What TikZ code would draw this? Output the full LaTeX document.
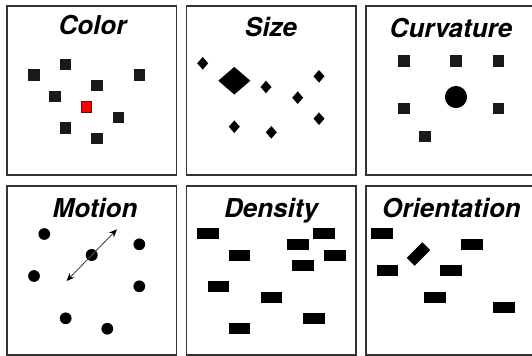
\documentclass[tikz,border=0pt]{standalone}
\usepackage{fontspec}
\setsansfont{TeX Gyre Heros}
\usetikzlibrary{arrows.meta}

\begin{document}
\begin{tikzpicture}[x=0.75pt,y=-0.75pt,>=Stealth,
		panel/.style={draw=black!80,line width=1pt},
		title/.style={anchor=base,font=\sffamily\bfseries\itshape\fontsize{19.5}{22}\selectfont},
		glyph/.style={fill=black!90}]
		
		\useasboundingbox (0,0) rectangle (532,355);
		\clip (0,0) rectangle (532,355);
		
		% frames
		\foreach \x in {7,186.5,366}
		\foreach \y in {6,186}
		\draw[panel] (\x,\y) rectangle ++(169.5,169);
		
		% titles
		\node[title] (color)   at (92.5,34)   {Color};
		\node[title] (size)    at (271,36.5)  {Size};
		\node[title] (curv)    at (451,37.5)  {Curvature};
		\node[title] (motion)  at (95,217)    {Motion};
		\node[title] (density) at (271,217.5) {Density};
		\node[title] (orient)  at (451.5,217) {Orientation};
		
		% color: one red square among dark ones
		\foreach \p in {(34,75),(65.7,64.3),(139.3,75),(97,85.7),(55,96.3),(118.3,117.3),(65.7,128),(97,138.3)}
		\fill[glyph] \p +(-5.7,-5.7) rectangle +(5.7,5.7);
		\filldraw[fill=red,draw=red!50!black,line width=0.5pt] (86.3,107) +(-5.4,-5.4) rectangle +(5.4,5.4);
		
		% size: small diamonds and a big one
		\foreach \x/\y in {202.7/63.3,266/87,319/76.3,297.7/97.7,319/118.7,234.3/126.7,271.3/132.3}
		\fill (\x,\y) +(0,-6.3) -- +(5.5,0) -- +(0,6.3) -- +(-5.5,0) -- cycle;
		\fill (234.3,80.7) +(0,-13.8) -- +(16,0) -- +(0,13.8) -- +(-16,0) -- cycle;
		
		% curvature: squares and one disc
		\foreach \p in {(404,61),(456,61),(498.3,61),(404,108.7),(498.3,108.7),(425,136.7)}
		\fill[glyph] \p +(-5.7,-5.7) rectangle +(5.7,5.7);
		\fill (456,97) circle (8.3pt);
		
		% motion: dots, the middle one moving
		\foreach \p in {(44.3,234),(139.3,244.3),(34,276),(139.3,286.3),(65.7,318.3),(107.3,328.7)}
		\fill \p circle (4.4pt);
		\fill (91.7,255) circle (4.5pt) coordinate (mover);
		\coordinate (back) at (66.5,281);
		\coordinate (ahead) at (117,229.3);
		\draw[black!70,line width=0.7pt,{Stealth[black,length=6pt,width=5pt]}-{Stealth[black,length=6pt,width=5pt]}] (back) -- (ahead);
		
		% density: bars
		\foreach \x/\y in {208/233.7,324/233.7,297.7/244.3,239.3/255,334.7/255,303/265.3,218.3/286.7,271.3/297,313.7/318.3,239.3/328.7}
		\fill (\x,\y) +(-10.8,-5.5) rectangle +(10.8,5.5);
		
		% orientation: bars, one tilted
		\foreach \x/\y in {382/233.7,472/244.3,387.3/270.7,451/270.7,435/297,503.7/307.7}
		\fill (\x,\y) +(-10.8,-5.5) rectangle +(10.8,5.5);
		\fill[rotate around={45:(418.5,254)}] (418.5,254) +(-11,-5.5) -- +(11,-5.5) -- +(11,5.5) -- +(-11,5.5) -- cycle;
		
	\end{tikzpicture}
\end{document}
